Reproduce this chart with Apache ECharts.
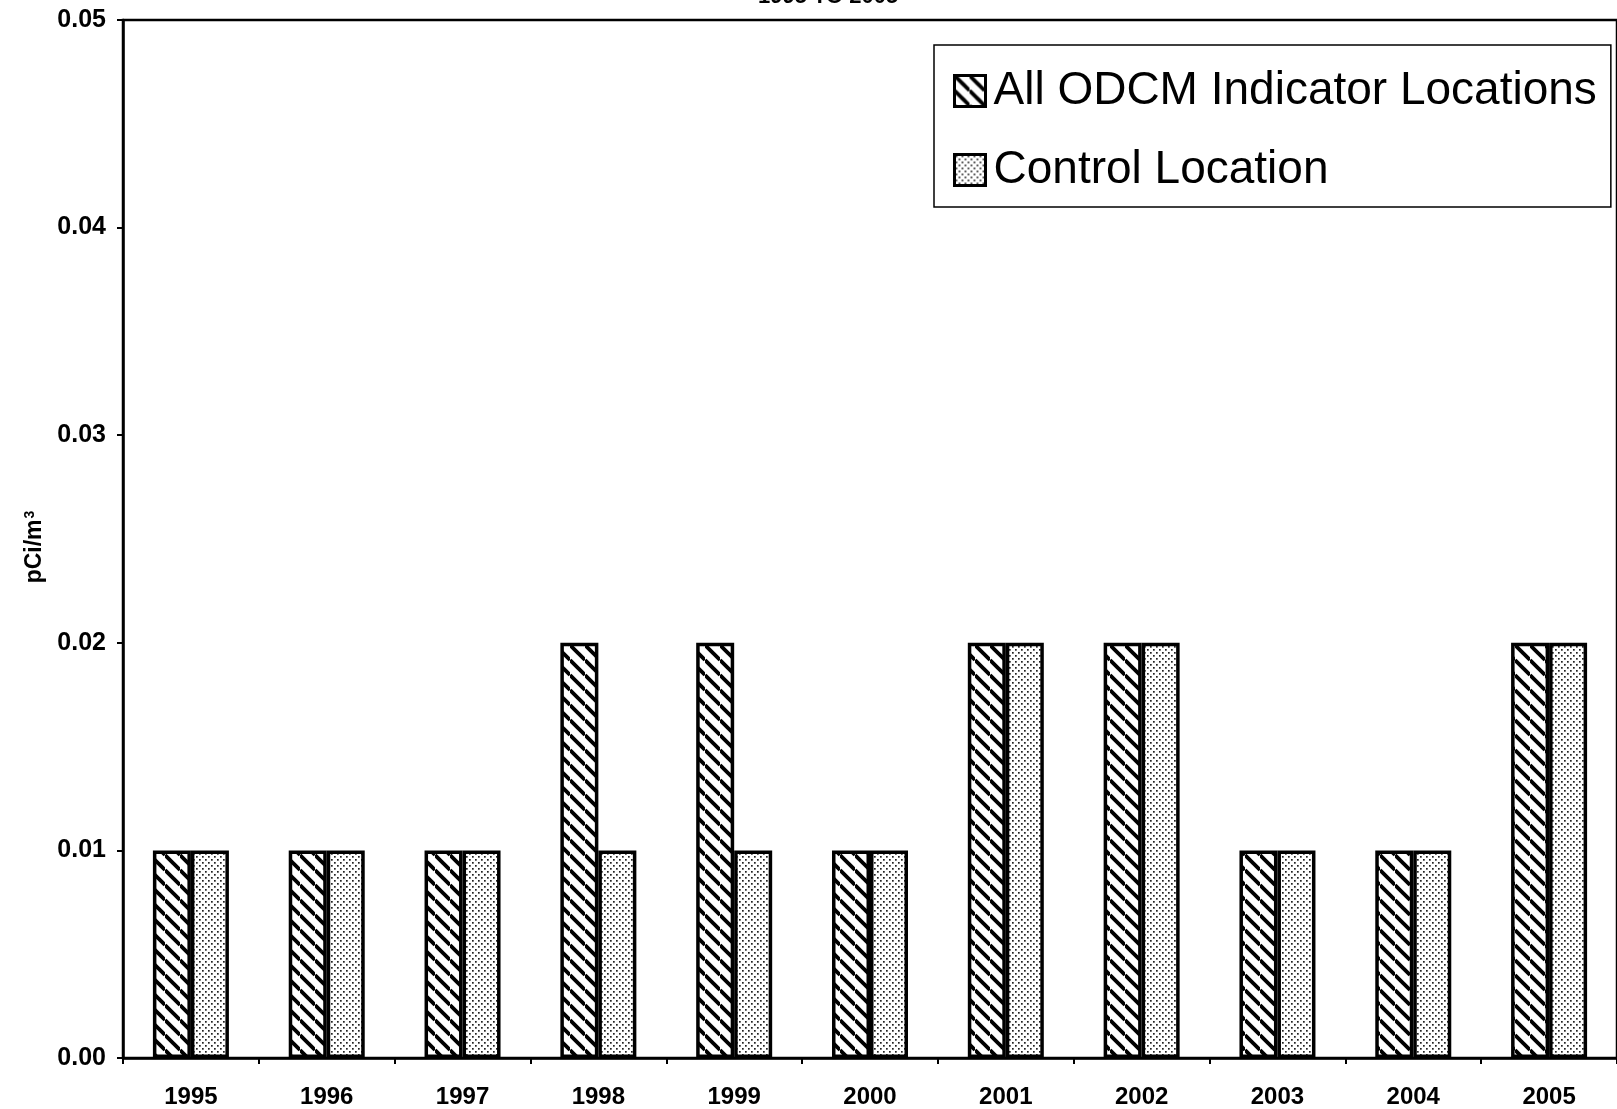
<!DOCTYPE html>
<html>
<head>
<meta charset="utf-8">
<script src="https://cdn.jsdelivr.net/npm/echarts@6/dist/echarts.min.js"></script>
<style>
  html, body { margin: 0; padding: 0; background: #fff; }
  #chart { width: 1617px; height: 1109px; }
</style>
</head>
<body>
<div id="chart"></div>
<script>
// values
var years = ['1995', '1996', '1997', '1998', '1999', '2000', '2001', '2002', '2003', '2004', '2005'];
var indicatorVals = [0.01, 0.01, 0.01, 0.02, 0.02, 0.01, 0.02, 0.02, 0.01, 0.01, 0.02];
var controlVals = [0.01, 0.01, 0.01, 0.01, 0.01, 0.01, 0.02, 0.02, 0.01, 0.01, 0.02];
var seriesNames = ['All ODCM Indicator Locations', 'Control Location'];

// hatch fill, lines running top-left to bottom-right
function hatchPattern() {
  var s = 15;
  var c = document.createElement('canvas');
  c.width = s; c.height = s;
  var g = c.getContext('2d');
  g.fillStyle = '#fff';
  g.fillRect(0, 0, s, s);
  g.strokeStyle = '#000';
  g.lineWidth = 3.8;
  [-s, 0, s].forEach(function (k) {
    g.beginPath();
    g.moveTo(0, k);
    g.lineTo(s, s + k);
    g.stroke();
  });
  return c;
}

// fine stipple fill
function dotPattern() {
  var s = 6;
  var c = document.createElement('canvas');
  c.width = s; c.height = s;
  var g = c.getContext('2d');
  g.fillStyle = '#fff';
  g.fillRect(0, 0, s, s);
  g.fillStyle = '#222';
  g.fillRect(1, 1, 1.7, 1.7);
  g.fillRect(4, 4, 1.7, 1.7);
  return c;
}

var chart = echarts.init(document.getElementById('chart'));

var font = 'Liberation Sans, Arial, sans-serif';

var option = {
  backgroundColor: '#fff',
  animation: false,
  title: {
    text: '1995 TO 2005',
    left: 753,
    top: -19,
    textStyle: { fontFamily: font, fontSize: 22, fontWeight: 'bold', color: '#000' }
  },
  grid: {
    left: 123,
    right: -2,
    top: 20,
    bottom: 50,
    show: true,
    borderColor: '#000',
    borderWidth: 2.5,
    backgroundColor: 'transparent'
  },
  legend: {
    orient: 'vertical',
    left: 934,
    top: 45,
    padding: [23, 14, 14, 19],
    itemGap: 33,
    itemWidth: 31,
    itemHeight: 31,
    icon: 'rect',
    borderColor: '#000',
    borderWidth: 1.5,
    backgroundColor: '#fff',
    data: seriesNames,
    itemStyle: { borderColor: '#000', borderWidth: 3 },
    textStyle: { fontFamily: font, fontSize: 46, color: '#000', padding: [0, 0, 0, 3] }
  },
  xAxis: {
    type: 'category',
    data: years,
    axisLine: { lineStyle: { color: '#000', width: 2.5 } },
    axisTick: { show: true, length: 6, lineStyle: { color: '#000', width: 2 } },
    axisLabel: { margin: 27, fontFamily: font, fontSize: 24, fontWeight: 'bold', color: '#000' }
  },
  yAxis: {
    type: 'value',
    min: 0,
    max: 0.05,
    interval: 0.01,
    name: 'pCi/m{sup|3}',
    nameLocation: 'middle',
    nameGap: 74,
    nameTextStyle: {
      fontFamily: font,
      fontSize: 23,
      fontWeight: 'bold',
      color: '#000',
      padding: [0, 16, 0, 0],
      rich: {
        sup: { fontFamily: font, fontSize: 14, fontWeight: 'bold', color: '#000', padding: [0, 0, 10, 1] }
      }
    },
    axisLine: { show: true, lineStyle: { color: '#000', width: 2.5 } },
    axisTick: { show: true, length: 6, lineStyle: { color: '#000', width: 2 } },
    splitLine: { show: false },
    axisLabel: {
      margin: 17,
      fontFamily: font,
      fontSize: 25,
      fontWeight: 'bold',
      color: '#000',
      formatter: function (v) { return v.toFixed(2); }
    }
  },
  series: [
    {
      name: seriesNames[0],
      type: 'bar',
      data: indicatorVals,
      barWidth: 38,
      barGap: '0%',
      itemStyle: {
        color: { image: hatchPattern(), repeat: 'repeat' },
        borderColor: '#000',
        borderWidth: 3.5
      }
    },
    {
      name: seriesNames[1],
      type: 'bar',
      data: controlVals,
      barWidth: 38,
      barGap: '0%',
      itemStyle: {
        color: { image: dotPattern(), repeat: 'repeat' },
        borderColor: '#000',
        borderWidth: 3.5
      }
    }
  ]
};

chart.setOption(option);
</script>
</body>
</html>
